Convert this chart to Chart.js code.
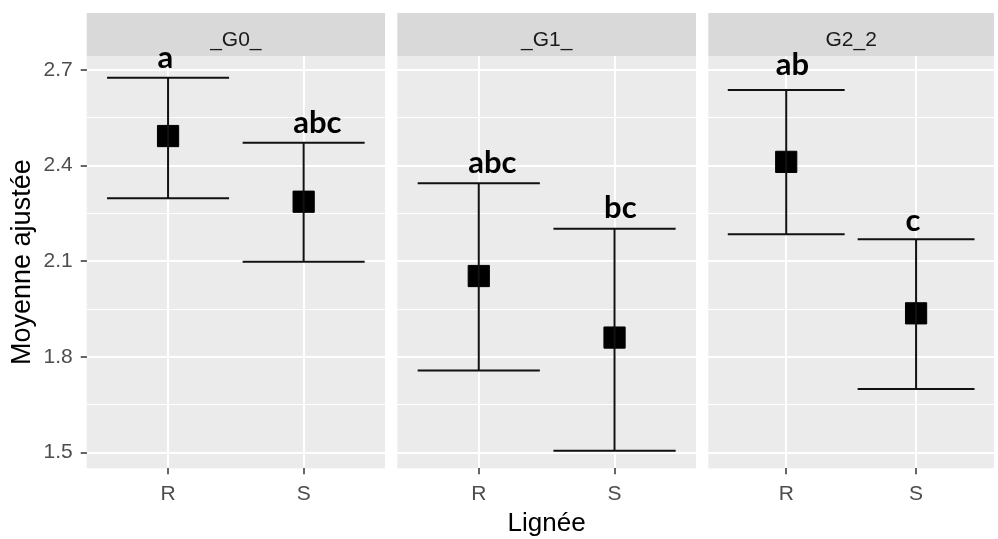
<!DOCTYPE html>
<html>
<head>
<meta charset="utf-8">
<script src="https://cdn.jsdelivr.net/npm/chart.js@4"></script>
<style>
  html, body { margin: 0; padding: 0; background: #fff; overflow: hidden; width: 998px; height: 539px; }
  canvas { position: absolute; left: 0; top: 0; }
</style>
</head>
<body>
<canvas id="c0" width="1010" height="539"></canvas>
<canvas id="c1" width="1010" height="539"></canvas>
<canvas id="c2" width="1010" height="539"></canvas>
<script>
// ---- data ----
const panels = ['_G0_', '_G1_', 'G2_2'];
const lignees = ['R', 'S'];
const means  = [[2.493, 2.287], [2.054, 1.861], [2.412, 1.937]];
const lowers = [[2.298, 2.099], [1.758, 1.506], [2.185, 1.700]];
const uppers = [[2.676, 2.472], [2.345, 2.202], [2.637, 2.169]];
const letters = [['a', 'abc'], ['abc', 'bc'], ['ab', 'c']];
const letterY = [[2.705, 2.501], [2.376, 2.235], [2.684, 2.196]];
const yTicks = [1.5, 1.8, 2.1, 2.4, 2.7];
const yMinor = [1.65, 1.95, 2.25, 2.55];
const yMin = 1.451, yMax = 2.744;
const xTitle = 'Lignée';
const yTitle = 'Moyenne ajustée';

// ---- layout (pixels) ----
const CW = 1010;
const panelLeft  = [86.7, 397.3, 708.3];
const panelRight = [385, 696, 1007];
const panelTop = 56, panelBottom = 468.3, stripTop = 13;
const capHalf = 0.45;
const FONT = 'Liberation Sans, Arial, sans-serif';

function buildChart(i) {
  const whisk = [], caps = [], pts = [];
  lignees.forEach((l, j) => {
    const x = j + 1;
    whisk.push({x: x, y: lowers[i][j]}, {x: x, y: uppers[i][j]}, {x: x, y: null});
    caps.push({x: x - capHalf, y: uppers[i][j]}, {x: x + capHalf, y: uppers[i][j]}, {x: x, y: null});
    caps.push({x: x - capHalf, y: lowers[i][j]}, {x: x + capHalf, y: lowers[i][j]}, {x: x, y: null});
    pts.push({x: x, y: means[i][j]});
  });

  const panelPlugin = {
    id: 'panel' + i,
    beforeDraw(chart) {
      const {ctx, chartArea: a} = chart;
      ctx.save();
      ctx.fillStyle = '#EBEBEB';
      ctx.fillRect(a.left, a.top, a.right - a.left, a.bottom - a.top);
      ctx.fillStyle = '#D9D9D9';
      ctx.fillRect(a.left, stripTop, a.right - a.left, a.top - stripTop);
      ctx.fillStyle = '#1A1A1A';
      ctx.font = '21px ' + FONT;
      ctx.textAlign = 'center';
      ctx.textBaseline = 'alphabetic';
      ctx.fillText(panels[i], (a.left + a.right) / 2, 45.5);
      ctx.restore();
    },
    afterDraw(chart) {
      const {ctx} = chart;
      const xs = chart.scales.x, ys = chart.scales.y;
      ctx.save();
      ctx.fillStyle = '#000';
      ctx.font = 'bold 31px Lato, "Open Sans", sans-serif';
      ctx.textAlign = 'left';
      ctx.textBaseline = 'alphabetic';
      lignees.forEach((l, j) => {
        ctx.fillText(letters[i][j], xs.getPixelForValue(j + 1) - 10.5, ys.getPixelForValue(letterY[i][j]));
      });
      ctx.restore();
    }
  };

  const allY = [...yTicks, ...yMinor].sort((a, b) => a - b);
  const isMajor = v => yTicks.includes(v);

  return new Chart(document.getElementById('c' + i), {
    type: 'scatter',
    data: {
      datasets: [
        { type: 'line', data: whisk, borderColor: '#111', borderWidth: 2, pointRadius: 0, spanGaps: false, fill: false },
        { type: 'line', data: caps, borderColor: '#111', borderWidth: 2, pointRadius: 0, spanGaps: false, fill: false },
        { type: 'scatter', data: pts, pointStyle: 'rect', pointRadius: 15, backgroundColor: '#000', borderColor: '#000', borderWidth: 1 }
      ]
    },
    options: {
      responsive: false,
      animation: false,
      devicePixelRatio: 1,
      events: [],
      layout: { padding: { top: panelTop, bottom: 0, left: i === 0 ? 0 : panelLeft[i], right: CW - panelRight[i] } },
      plugins: { legend: { display: false }, tooltip: { enabled: false } },
      scales: {
        x: {
          type: 'linear', min: 0.4, max: 2.6,
          afterBuildTicks: s => { s.ticks = lignees.map((l, j) => ({ value: j + 1 })); },
          afterFit: s => { s.height = 539 - panelBottom; },
          ticks: {
            autoSkip: false, maxRotation: 0,
            callback: v => lignees[Math.round(v) - 1],
            font: { family: FONT, size: 21 }, color: '#4D4D4D', padding: 7
          },
          grid: { color: '#FFFFFF', lineWidth: 2, drawTicks: true, tickLength: 6, tickColor: '#333', tickWidth: 1.5 },
          border: { display: false },
          title: {
            display: i === 1, text: xTitle, color: '#000',
            font: { family: FONT, size: 26 }, padding: { top: 0, bottom: 0 }
          }
        },
        y: {
          type: 'linear', min: yMin, max: yMax,
          afterBuildTicks: s => { s.ticks = allY.map(v => ({ value: v })); },
          afterFit: s => { s.width = i === 0 ? panelLeft[0] : 0; },
          ticks: {
            display: i === 0, autoSkip: false,
            callback: v => isMajor(v) ? v.toFixed(1) : '',
            font: { family: FONT, size: 21 }, color: '#4D4D4D', padding: 8
          },
          grid: {
            color: '#FFFFFF',
            lineWidth: c => (c.tick && isMajor(c.tick.value)) ? 2 : 1,
            drawTicks: i === 0, tickLength: 6,
            tickColor: c => (c.tick && isMajor(c.tick.value)) ? '#333' : 'rgba(0,0,0,0)',
            tickWidth: 1.5
          },
          border: { display: false },
          title: {
            display: i === 0, text: yTitle, color: '#000',
            font: { family: FONT, size: 27 }, padding: { top: 6, bottom: 0 }
          }
        }
      }
    },
    plugins: [panelPlugin]
  });
}

[0, 1, 2].forEach(buildChart);
</script>
</body>
</html>
